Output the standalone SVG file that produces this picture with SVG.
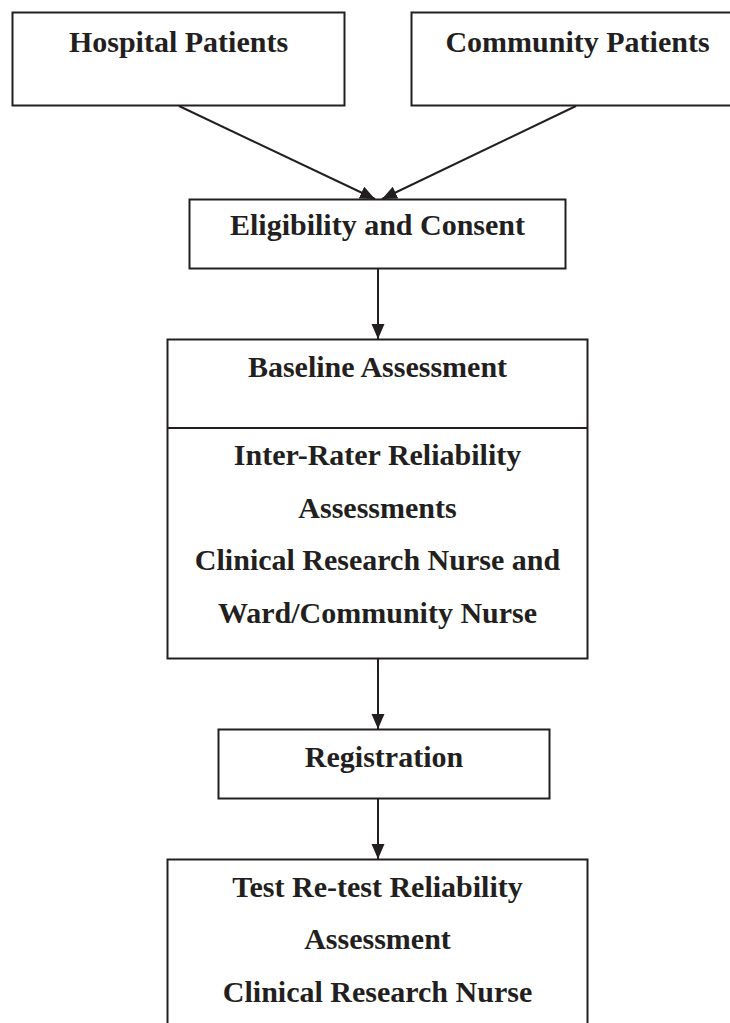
<svg xmlns="http://www.w3.org/2000/svg" width="730" height="1023" viewBox="0 0 730 1023">
<style>
.box{fill:#fff;stroke:#231f20;stroke-width:2}
.t{font-family:"Liberation Serif","Times New Roman",serif;font-weight:bold;font-size:30px;fill:#231f20;text-anchor:middle}
.c{stroke:#231f20;stroke-width:2;fill:none;marker-end:url(#ah)}
</style>
<defs>
<marker id="ah" markerUnits="userSpaceOnUse" markerWidth="16" markerHeight="14" refX="15" refY="6.5" orient="auto">
<path d="M0,0 L15,6.5 L0,13 z" fill="#231f20"/>
</marker>
</defs>
<rect width="730" height="1023" fill="#fff"/>
<g id="connectors">
<line class="c" x1="179" y1="106" x2="375" y2="199"/>
<line class="c" x1="576" y1="106" x2="382" y2="199"/>
<line class="c" x1="378" y1="269" x2="378" y2="339"/>
<line class="c" x1="378" y1="659" x2="378" y2="729"/>
<line class="c" x1="378" y1="799" x2="378" y2="859"/>
</g>
<g id="hospital">
<rect class="box" x="12.5" y="12.5" width="332" height="93"/>
<text class="t" x="178.5" y="52">Hospital Patients</text>
</g>
<g id="community">
<rect class="box" x="411.5" y="12.5" width="332" height="93"/>
<text class="t" x="577.5" y="52">Community Patients</text>
</g>
<g id="eligibility">
<rect class="box" x="189.5" y="199.5" width="376" height="69"/>
<text class="t" x="377.5" y="235">Eligibility and Consent</text>
</g>
<g id="baseline">
<rect class="box" x="167.5" y="339.5" width="420" height="319"/>
<line x1="167.5" y1="428" x2="587.5" y2="428" stroke="#231f20" stroke-width="2"/>
<text class="t" x="377.5" y="377">Baseline Assessment</text>
<text class="t" x="377.5" y="465">Inter-Rater Reliability</text>
<text class="t" x="377.5" y="518">Assessments</text>
<text class="t" x="377.5" y="570">Clinical Research Nurse and</text>
<text class="t" x="377.5" y="623">Ward/Community Nurse</text>
</g>
<g id="registration">
<rect class="box" x="218.5" y="729.5" width="331" height="69"/>
<text class="t" x="384" y="767">Registration</text>
</g>
<g id="retest">
<rect class="box" x="167.5" y="859.5" width="420" height="200"/>
<text class="t" x="377.5" y="897">Test Re-test Reliability</text>
<text class="t" x="377.5" y="949">Assessment</text>
<text class="t" x="377.5" y="1002">Clinical Research Nurse</text>
</g>
</svg>
